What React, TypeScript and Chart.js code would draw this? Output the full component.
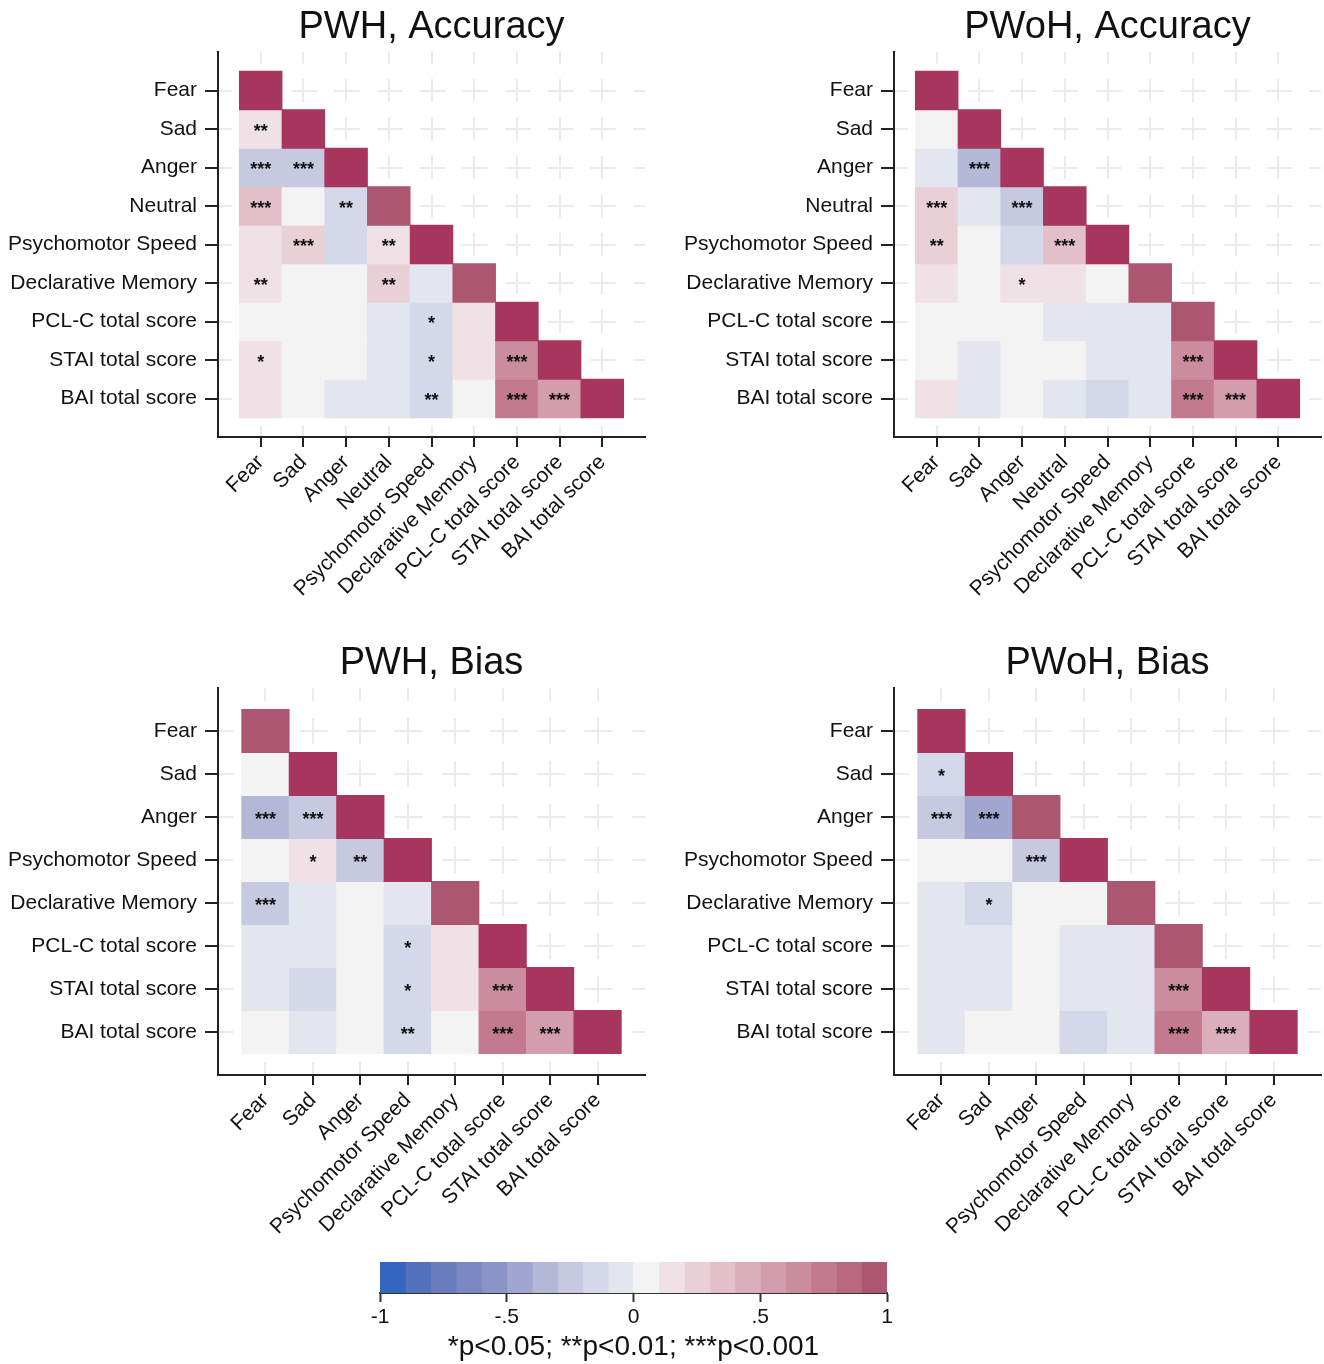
import React, { useEffect, useRef } from 'react';
import { Chart, registerables } from 'chart.js';

Chart.register(...registerables);

const FONT = '"Liberation Sans", Arial, Helvetica, sans-serif';
Chart.defaults.font.family = FONT;
Chart.defaults.color = '#111111';

// ---------- categories ----------
const ACC_LABELS = [
  'Fear', 'Sad', 'Anger', 'Neutral', 'Psychomotor Speed', 'Declarative Memory',
  'PCL-C total score', 'STAI total score', 'BAI total score',
];
const BIAS_LABELS = [
  'Fear', 'Sad', 'Anger', 'Psychomotor Speed', 'Declarative Memory',
  'PCL-C total score', 'STAI total score', 'BAI total score',
];

// ---------- correlation values (lower triangle incl. diagonal) ----------
const PWH_ACC_VALUES = [
  [1],
  [0.15, 1],
  [-0.22, -0.22, 1],
  [0.32, 0.04, -0.14, 0.95],
  [0.13, 0.25, -0.14, 0.15, 1],
  [0.14, 0.04, 0.03, 0.24, -0.06, 0.95],
  [0.04, 0.03, 0.03, -0.05, -0.15, 0.13, 1],
  [0.14, 0.04, 0.03, -0.05, -0.15, 0.12, 0.65, 1],
  [0.13, 0.04, -0.05, -0.05, -0.16, 0.05, 0.74, 0.55, 1],
];
const PWH_ACC_STARS = [
  [''],
  ['**', ''],
  ['***', '***', ''],
  ['***', '', '**', ''],
  ['', '***', '', '**', ''],
  ['**', '', '', '**', '', ''],
  ['', '', '', '', '*', '', ''],
  ['*', '', '', '', '*', '', '***', ''],
  ['', '', '', '', '**', '', '***', '***', ''],
];

const PWOH_ACC_VALUES = [
  [1],
  [0.05, 1],
  [-0.05, -0.35, 1],
  [0.25, -0.05, -0.25, 1],
  [0.23, 0.03, -0.15, 0.35, 1],
  [0.12, 0.04, 0.13, 0.12, 0.04, 0.95],
  [0.04, 0.03, 0.04, -0.05, -0.05, -0.05, 0.95],
  [0.04, -0.05, 0.03, 0.04, -0.05, -0.05, 0.62, 1],
  [0.12, -0.05, 0.04, -0.05, -0.13, -0.05, 0.73, 0.55, 1],
];
const PWOH_ACC_STARS = [
  [''],
  ['', ''],
  ['', '***', ''],
  ['***', '', '***', ''],
  ['**', '', '', '***', ''],
  ['', '', '*', '', '', ''],
  ['', '', '', '', '', '', ''],
  ['', '', '', '', '', '', '***', ''],
  ['', '', '', '', '', '', '***', '***', ''],
];

const PWH_BIAS_VALUES = [
  [0.95],
  [0.04, 1],
  [-0.35, -0.25, 1],
  [0.03, 0.12, -0.22, 1],
  [-0.27, -0.05, 0.03, -0.05, 0.95],
  [-0.05, -0.05, 0.03, -0.15, 0.12, 1],
  [-0.05, -0.12, 0.03, -0.15, 0.12, 0.65, 1],
  [0.04, -0.05, 0.03, -0.16, 0.04, 0.73, 0.55, 1],
];
const PWH_BIAS_STARS = [
  [''],
  ['', ''],
  ['***', '***', ''],
  ['', '*', '**', ''],
  ['***', '', '', '', ''],
  ['', '', '', '*', '', ''],
  ['', '', '', '*', '', '***', ''],
  ['', '', '', '**', '', '***', '***', ''],
];

const PWOH_BIAS_VALUES = [
  [1],
  [-0.15, 1],
  [-0.28, -0.42, 0.95],
  [0.04, 0.04, -0.25, 1],
  [-0.05, -0.15, 0.03, 0.04, 0.95],
  [-0.05, -0.05, 0.03, -0.05, -0.05, 0.95],
  [-0.05, -0.05, 0.03, -0.05, -0.05, 0.62, 1],
  [-0.05, 0.04, 0.03, -0.13, -0.05, 0.73, 0.48, 1],
];
const PWOH_BIAS_STARS = [
  [''],
  ['*', ''],
  ['***', '***', ''],
  ['', '', '***', ''],
  ['', '*', '', '', ''],
  ['', '', '', '', '', ''],
  ['', '', '', '', '', '***', ''],
  ['', '', '', '', '', '***', '***', ''],
];

// ---------- colour scale ----------
const PALETTE = [
  '#3466c0', '#5571bc', '#6a7cbd', '#7a87c1', '#8b94c6',
  '#a0a6cf', '#b3b8d7', '#c6c9e0', '#d5d8e8', '#e4e6ef',
  '#f3f3f3', '#efe1e5', '#e9d0d7', '#e2bfc9', '#dbaebb',
  '#d39dad', '#cb8c9e', '#c37a8f', '#ba6880', '#ad5670',
];
const PERFECT_COLOR = '#a7365f';
const COLORBAR_CUTS = [-1, -0.9, -0.8, -0.7, -0.6, -0.5, -0.4, -0.3, -0.2, -0.1, 0, 0.1, 0.2, 0.3, 0.4, 0.5, 0.6, 0.7, 0.8, 0.9, 1];
const COLORBAR_TICKS = [-1, -0.5, 0, 0.5, 1];
const LEGEND_NOTE = '*p<0.05; **p<0.01; ***p<0.001';

function colorFor(v: number): string {
  if (v >= 1) return PERFECT_COLOR;
  let i = Math.floor((v + 1) / 0.1 + 1e-9);
  if (i < 0) i = 0;
  if (i > PALETTE.length - 1) i = PALETTE.length - 1;
  return PALETTE[i];
}

function buildPanelConfig(p: any): any {
  const { title, labels, values, stars, yAxisWidth, xAxisHeight, padRight } = p;
  const n = labels.length;
  const datasets = values.map((row: number[], r: number) => ({
    label: labels[r],
    data: row.map((_v: number, c: number) => ({ x: c, y: [r - 0.5, r + 0.5] })),
    backgroundColor: row.map(colorFor),
    borderWidth: 0,
    grouped: false,
    barPercentage: 1,
    categoryPercentage: 1,
    inflateAmount: 0.4,
  }));

  const period = (ctx: any, vertical: boolean) => {
    const a = ctx.chart.chartArea;
    if (!a) return 0;
    return (vertical ? a.bottom - a.top : a.right - a.left) / (n + 1);
  };
  const dashFor = (vertical: boolean) => ({
    dash: (ctx: any) => {
      const pp = period(ctx, vertical);
      return pp ? [pp * 0.6, pp * 0.4] : [];
    },
    dashOffset: (ctx: any) => period(ctx, vertical) * 0.3,
  });
  const setTicks = (scale: any) => {
    scale.ticks = labels.map((_l: string, i: number) => ({ value: i }));
  };
  const tickLabel = (v: any) => labels[Math.round(Number(v))] ?? '';

  const starsPlugin = {
    id: 'cellStars',
    afterDatasetsDraw(chart: any) {
      const { ctx } = chart;
      const xs = chart.scales.x;
      const ys = chart.scales.y;
      ctx.save();
      ctx.fillStyle = '#111111';
      ctx.font = 'bold 18px ' + FONT;
      ctx.textAlign = 'center';
      ctx.textBaseline = 'middle';
      stars.forEach((row: string[], r: number) => {
        row.forEach((s: string, c: number) => {
          if (s) ctx.fillText(s, xs.getPixelForValue(c), ys.getPixelForValue(r) + 3);
        });
      });
      ctx.restore();
    },
  };

  return {
    type: 'bar',
    data: { datasets },
    plugins: [starsPlugin],
    options: {
      responsive: false,
      maintainAspectRatio: false,
      animation: false,
      events: [],
      layout: { padding: { left: 0, right: padRight, top: 0, bottom: 0 } },
      plugins: {
        legend: { display: false },
        tooltip: { enabled: false },
        title: {
          display: true,
          text: title,
          fullSize: false,
          color: '#111111',
          font: { size: 38, weight: 'normal', family: FONT },
          padding: { top: 4.5, bottom: 1.9 },
        },
      },
      scales: {
        x: {
          type: 'linear',
          min: -1,
          max: n,
          offset: false,
          afterBuildTicks: setTicks,
          afterFit: (s: any) => { s.height = xAxisHeight; },
          ticks: {
            autoSkip: false,
            minRotation: 45,
            maxRotation: 45,
            padding: 3,
            color: '#111111',
            font: { size: 21, family: FONT },
            callback: tickLabel,
          },
          grid: {
            offset: false,
            color: '#ebebeb',
            lineWidth: 2,
            drawTicks: true,
            tickColor: '#222222',
            tickWidth: 2,
            tickLength: 10,
          },
          border: { display: true, color: '#222222', width: 2, ...dashFor(true) },
        },
        y: {
          type: 'linear',
          min: -1,
          max: n,
          reverse: true,
          afterBuildTicks: setTicks,
          afterFit: (s: any) => { s.width = yAxisWidth; },
          ticks: {
            autoSkip: false,
            padding: 8,
            color: '#111111',
            font: { size: 21, family: FONT },
            callback: tickLabel,
          },
          grid: {
            color: '#ebebeb',
            lineWidth: 2,
            drawTicks: true,
            tickColor: '#222222',
            tickWidth: 2,
            tickLength: 13,
          },
          border: { display: true, color: '#222222', width: 2, ...dashFor(false) },
        },
      },
    },
  };
}

function formatCut(v: number): string {
  if (v === 0) return '0';
  const s = String(Math.abs(v)).replace(/^0/, '');
  return v < 0 ? '-' + s : s;
}

function buildColorbarConfig(): any {
  const datasets = PALETTE.map((c, i) => ({
    data: [[COLORBAR_CUTS[i], COLORBAR_CUTS[i + 1]]],
    backgroundColor: c,
    borderWidth: 0,
    grouped: false,
    barPercentage: 1,
    categoryPercentage: 1,
    inflateAmount: 0.4,
  }));
  return {
    type: 'bar',
    data: { labels: [''], datasets },
    options: {
      indexAxis: 'y',
      responsive: false,
      maintainAspectRatio: false,
      animation: false,
      events: [],
      layout: { padding: { left: 40, right: 43, top: 12, bottom: 0 } },
      plugins: {
        legend: { display: false },
        tooltip: { enabled: false },
        title: { display: false },
      },
      scales: {
        x: {
          type: 'linear',
          min: -1,
          max: 1,
          afterBuildTicks: (s: any) => { s.ticks = COLORBAR_TICKS.map((v) => ({ value: v })); },
          afterFit: (s: any) => { s.height = 71; },
          ticks: {
            autoSkip: false,
            maxRotation: 0,
            padding: 3,
            color: '#111111',
            font: { size: 21, family: FONT },
            callback: (v: any) => formatCut(Number(v)),
          },
          grid: {
            drawOnChartArea: false,
            drawTicks: true,
            tickLength: 9,
            tickColor: '#333333',
            tickWidth: 2,
          },
          border: { display: true, color: '#333333', width: 2 },
          title: {
            display: true,
            text: LEGEND_NOTE,
            color: '#111111',
            font: { size: 28, family: FONT },
            padding: { top: 0, bottom: 0 },
          },
        },
        y: { display: false },
      },
    },
  };
}

function ChartCanvas({ build, left, top, width, height }: any) {
  const ref = useRef<HTMLCanvasElement | null>(null);
  useEffect(() => {
    if (!ref.current) return;
    const chart = new Chart(ref.current, build());
    return () => chart.destroy();
  }, []);
  return (
    <canvas
      ref={ref}
      width={width}
      height={height}
      style={{ position: 'absolute', left, top, width, height, display: 'block' }}
    />
  );
}

const PANELS = [
  { key: 'a', title: 'PWH, Accuracy', labels: ACC_LABELS, values: PWH_ACC_VALUES, stars: PWH_ACC_STARS, left: 0, top: 0, width: 660, height: 610, yAxisWidth: 218, xAxisHeight: 173, padRight: 15 },
  { key: 'b', title: 'PWoH, Accuracy', labels: ACC_LABELS, values: PWOH_ACC_VALUES, stars: PWOH_ACC_STARS, left: 660, top: 0, width: 664, height: 610, yAxisWidth: 234, xAxisHeight: 173, padRight: 3 },
  { key: 'c', title: 'PWH, Bias', labels: BIAS_LABELS, values: PWH_BIAS_VALUES, stars: PWH_BIAS_STARS, left: 0, top: 636, width: 660, height: 610, yAxisWidth: 218, xAxisHeight: 171, padRight: 15 },
  { key: 'd', title: 'PWoH, Bias', labels: BIAS_LABELS, values: PWOH_BIAS_VALUES, stars: PWOH_BIAS_STARS, left: 660, top: 636, width: 664, height: 610, yAxisWidth: 234, xAxisHeight: 171, padRight: 3 },
];

export default function App() {
  return (
    <div style={{ position: 'absolute', left: 0, top: 0, width: 1324, height: 1364, background: '#ffffff', overflow: 'hidden' }}>
      {PANELS.map((p) => (
        <ChartCanvas
          key={p.key}
          build={() => buildPanelConfig(p)}
          left={p.left}
          top={p.top}
          width={p.width}
          height={p.height}
        />
      ))}
      <ChartCanvas build={buildColorbarConfig} left={340} top={1250} width={590} height={114} />
    </div>
  );
}
